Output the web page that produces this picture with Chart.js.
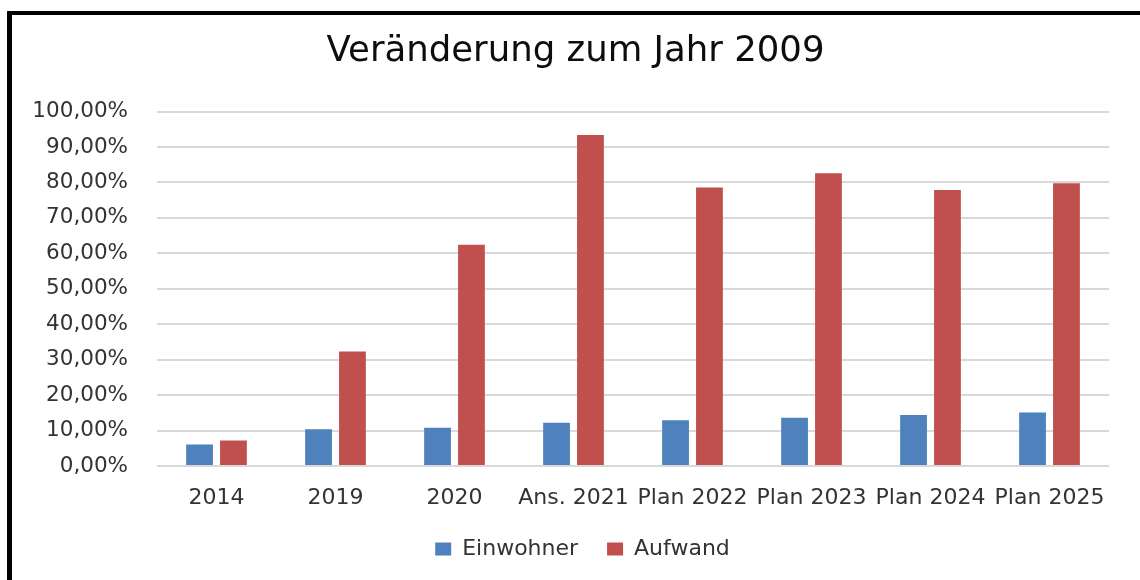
<!DOCTYPE html>
<html lang="de">
<head>
<meta charset="utf-8">
<title>Veränderung zum Jahr 2009</title>
<script src="https://cdn.jsdelivr.net/npm/chart.js@4.4.1/dist/chart.umd.min.js"></script>
<style>
    body { margin: 0; background: #fff; }
    #frame {
        position: absolute;
        left: 7px;
        top: 11px;
        width: 1200px;
        height: 640px;
        border-left: 5px solid #000;
        border-top: 4px solid #000;
    }
    #veraenderung_Chart { position: absolute; left: 0; top: 0; }
</style>
</head>
<body>
<div id="frame"></div>
<canvas id="veraenderung_Chart" width="1140" height="580"></canvas>

<script>
// Daten (Prozent Veränderung zum Jahr 2009)
let labels = ['2014', '2019', '2020', 'Ans. 2021', 'Plan 2022', 'Plan 2023', 'Plan 2024', 'Plan 2025'];
let einwohner = [6.1, 10.4, 10.8, 12.2, 12.9, 13.6, 14.4, 15.1];
let aufwand = [7.2, 32.3, 62.4, 93.4, 78.6, 82.6, 77.9, 79.8];
let yMin = 0;
let yMax = 100;
let yStep = 10;

const fontFamily = 'DejaVu Sans';

// 10 -> "10,00%"
function formatPercent(value) {
    return Number(value).toFixed(2).replace('.', ',') + '%';
}

// Titel und Legende stehen im Original etwas weiter rechts als die Mitte
const shiftBoxes = {
    id: 'shiftBoxes',
    afterLayout(chart) {
        if (chart.titleBlock) {
            chart.titleBlock.left += 7;
            chart.titleBlock.right += 7;
        }
        if (chart.legend) {
            chart.legend.left += 14;
            chart.legend.right += 14;
        }
    }
};

const veraenderung_Chart = document.querySelector('#veraenderung_Chart');

new Chart(veraenderung_Chart, {
    type: 'bar',
    data: {
        labels: labels,
        datasets: [{
            label: 'Einwohner',
            data: einwohner,
            backgroundColor: '#4f81bd',
            categoryPercentage: 0.57,
            barPercentage: 0.79
        }, {
            label: 'Aufwand',
            data: aufwand,
            backgroundColor: '#c0504d',
            categoryPercentage: 0.57,
            barPercentage: 0.79
        }]
    },
    options: {
        responsive: false,
        animation: false,
        layout: {
            padding: { left: 28, right: 31, top: 0, bottom: 10 }
        },
        plugins: {
            title: {
                display: true,
                text: 'Veränderung zum Jahr 2009',
                color: '#0d0d0d',
                font: { family: fontFamily, size: 35.5, weight: 'normal' },
                padding: { top: 30, bottom: 39 }
            },
            legend: {
                position: 'bottom',
                labels: {
                    color: '#333',
                    font: { family: fontFamily, size: 22 },
                    boxWidth: 16,
                    boxHeight: 13,
                    padding: 29
                }
            },
            tooltip: { enabled: false }
        },
        scales: {
            x: {
                afterFit: function (scale) {
                    scale.height = 43;
                },
                grid: { display: false },
                border: { display: false },
                ticks: {
                    color: '#333',
                    font: { family: fontFamily, size: 22 },
                    padding: 11,
                    maxRotation: 0,
                    autoSkip: false
                }
            },
            y: {
                min: yMin,
                max: yMax,
                afterFit: function (scale) {
                    scale.width = 129;
                },
                grid: {
                    color: '#d9d9d9',
                    lineWidth: 2,
                    drawTicks: false
                },
                border: { display: false },
                ticks: {
                    stepSize: yStep,
                    color: '#333',
                    font: { family: fontFamily, size: 21.5 },
                    padding: 29,
                    callback: function (value) {
                        return formatPercent(value);
                    }
                }
            }
        }
    },
    plugins: [shiftBoxes]
});
</script>
</body>
</html>
